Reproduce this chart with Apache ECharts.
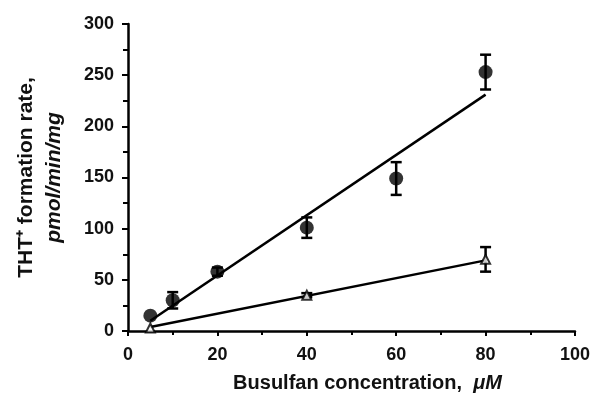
<!DOCTYPE html>
<html>
<head>
<meta charset="utf-8">
<title>THT+ formation rate</title>
<style>
  html, body { margin: 0; padding: 0; background: #fff; }
  #main { width: 593px; height: 402px; }
</style>
</head>
<body>
<div id="main"></div>
<script src="https://cdn.jsdelivr.net/npm/echarts@6/dist/echarts.min.js"></script>
<script>
// filled circles
var circX = [5, 10, 20, 40, 60, 80];
var circY = [15, 30, 58, 101, 149, 253];
var circErr = [0, 8, 4, 10, 16, 17];
// open triangles
var triX = [5, 40, 80];
var triY = [3, 35, 70];
var triErr = [0, 2, 12];
// fitted lines (end points)
var fitCircX = [5, 80];
var fitCircY = [10, 231];
var fitTriX = [5, 80];
var fitTriY = [4, 69];

function pairs(xs, ys) {
  var out = [];
  for (var i = 0; i < xs.length; i++) out.push([xs[i], ys[i]]);
  return out;
}
function errData(xs, ys, es) {
  var out = [];
  for (var i = 0; i < xs.length; i++) {
    if (es[i] > 0) out.push([xs[i], ys[i] - es[i], ys[i] + es[i]]);
  }
  return out;
}
function renderErr(params, api) {
  var lo = api.coord([api.value(0), api.value(1)]);
  var hi = api.coord([api.value(0), api.value(2)]);
  var w = 5.5;
  var st = { stroke: '#000', lineWidth: 2.5 };
  return {
    type: 'group',
    children: [
      { type: 'line', shape: { x1: lo[0], y1: lo[1], x2: hi[0], y2: hi[1] }, style: st },
      { type: 'line', shape: { x1: lo[0] - w, y1: lo[1], x2: lo[0] + w, y2: lo[1] }, style: st },
      { type: 'line', shape: { x1: hi[0] - w, y1: hi[1], x2: hi[0] + w, y2: hi[1] }, style: st }
    ]
  };
}

var chart = echarts.init(document.getElementById('main'));
var font = 'Liberation Sans, Arial, sans-serif';
chart.setOption({
  animation: false,
  grid: { left: 128, right: 16, top: 24, bottom: 71 },
  xAxis: {
    type: 'value', min: 0, max: 100, interval: 20,
    name: '{a|Busulfan concentration,  }{b|\u03bcM}',
    nameLocation: 'middle', nameGap: 42,
    nameTextStyle: {
      padding: [0, 0, 0, 32],
      rich: {
        a: { fontFamily: font, fontWeight: 'bold', fontSize: 20, color: '#111' },
        b: { fontFamily: font, fontWeight: 'bold', fontStyle: 'italic', fontSize: 20, color: '#111' }
      }
    },
    axisLine: { lineStyle: { color: '#000', width: 2.5 } },
    axisTick: { inside: false, length: 5, lineStyle: { color: '#000', width: 2 } },
    minorTick: { show: true, splitNumber: 2, length: 4, lineStyle: { color: '#000', width: 2 } },
    axisLabel: { fontFamily: font, fontWeight: 'bold', fontSize: 18, color: '#111', margin: 15 },
    splitLine: { show: false }
  },
  yAxis: {
    type: 'value', min: 0, max: 300, interval: 50,
    name: '{a|THT\u207a formation rate,}\n{b|pmol/min/mg}',
    nameLocation: 'middle', nameGap: 60, nameRotate: 90,
    nameTextStyle: {
      rich: {
        a: { fontFamily: font, fontWeight: 'bold', fontSize: 21, color: '#111', lineHeight: 28 },
        b: { fontFamily: font, fontWeight: 'bold', fontStyle: 'italic', fontSize: 21, color: '#111', lineHeight: 28 }
      }
    },
    axisLine: { show: true, lineStyle: { color: '#000', width: 2.5 } },
    axisTick: { show: true, length: 6, lineStyle: { color: '#000', width: 2 } },
    minorTick: { show: true, splitNumber: 2, length: 5, lineStyle: { color: '#000', width: 2 } },
    axisLabel: { fontFamily: font, fontWeight: 'bold', fontSize: 18, color: '#111', margin: 14 },
    splitLine: { show: false }
  },
  series: [
    {
      type: 'line', data: pairs(fitCircX, fitCircY), symbol: 'none',
      lineStyle: { color: '#000', width: 2.5 }, z: 2
    },
    {
      type: 'line', data: pairs(fitTriX, fitTriY), symbol: 'none',
      lineStyle: { color: '#000', width: 2.5 }, z: 2
    },
    {
      type: 'custom', renderItem: renderErr, data: errData(circX, circY, circErr), z: 3
    },
    {
      type: 'custom', renderItem: renderErr, data: errData(triX, triY, triErr), z: 3
    },
    {
      type: 'scatter', data: pairs(circX, circY), symbol: 'circle', symbolSize: 14,
      itemStyle: { color: '#000' }, z: 4
    },
    {
      type: 'scatter', data: pairs(triX, triY), symbol: 'triangle', symbolSize: 9,
      itemStyle: { color: '#fff', borderColor: '#000', borderWidth: 2 }, z: 4
    }
  ]
});
</script>
</body>
</html>
